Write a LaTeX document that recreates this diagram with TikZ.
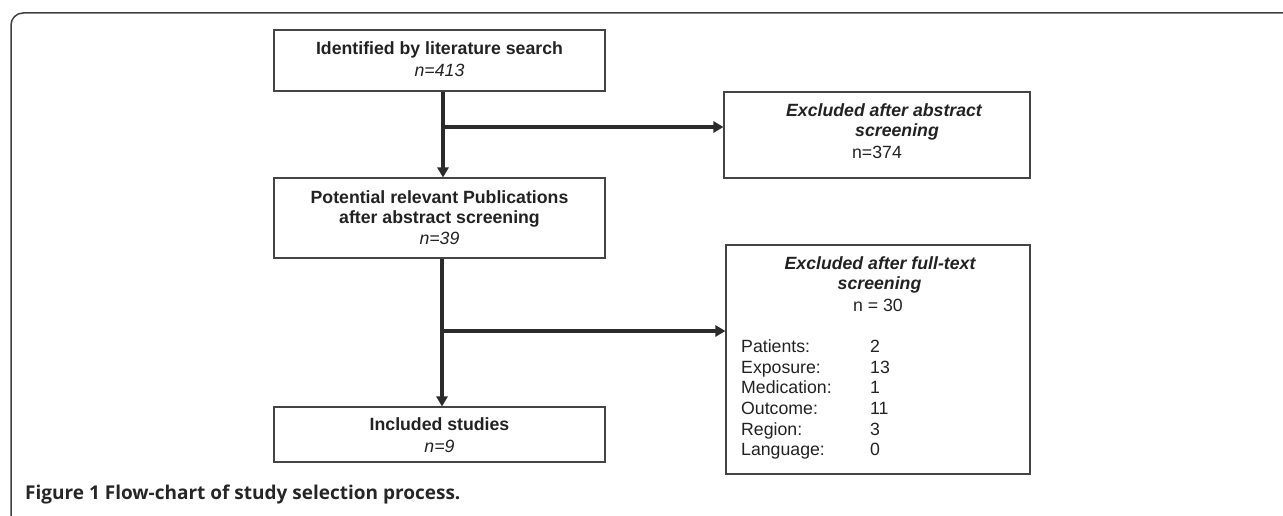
\documentclass[tikz,border=0pt]{standalone}
\usepackage{fontspec}
\setmainfont{Liberation Sans}
\newfontfamily\capfont{Open Sans}
\usetikzlibrary{arrows.meta,calc}
\definecolor{boxline}{HTML}{444444}
\definecolor{txt}{HTML}{222222}
\definecolor{arr}{HTML}{2B2B2B}
\tikzset{
  flowbox/.style={draw=boxline, line width=1.1pt, inner sep=0pt, text=txt},
  flowarrow/.style={draw=arr, line width=3.2pt, -{Triangle[length=10pt,width=11pt]}},
  tx/.style={text=txt, inner sep=0pt, text height=12.7pt, text depth=0pt, font=\fontsize{17.7}{20}\selectfont},
}
\begin{document}
\begin{tikzpicture}[x=1pt,y=-1pt]
\useasboundingbox (0,0) rectangle (1283,516);
% frame
\draw[draw=black!75, line width=1.5pt, rounded corners=12pt] (11,516) -- (11,13) -- (1283,13);
% main boxes
\node[flowbox, minimum width=331pt, minimum height=61pt] (b1) at (439.5,60.5) {};
\node[flowbox, minimum width=331pt, minimum height=80pt] (b2) at (439.5,218) {};
\node[flowbox, minimum width=331pt, minimum height=55pt] (b3) at (439.5,434.5) {};
\node[flowbox, minimum width=306pt, minimum height=86pt] (e1) at (877,135) {};
\node[flowbox, minimum width=304pt, minimum height=229pt] (e2) at (878,359.5) {};
% texts
\node[tx] (t1a) at (439.5,48) {\bfseries Identified by literature search};
\node[tx] (t1b) at (439.5,70) {\itshape n=413};
\node[tx] (t2a) at (439.5,197) {\bfseries Potential relevant Publications};
\node[tx] (t2b) at (439.5,217.5) {\bfseries after abstract screening};
\node[tx] (t2c) at (439.5,238) {\itshape n=39};
\node[tx] (t3a) at (439.5,424) {\bfseries Included studies};
\node[tx] (t3b) at (439.5,446) {\itshape n=9};
\node[tx] (e1a) at (884,110) {\bfseries\itshape Excluded after abstract};
\node[tx] (e1b) at (897,130) {\bfseries\itshape screening};
\node[tx] (e1c) at (877,152) {n=374};
\node[tx] (e2a) at (880,263) {\bfseries\itshape Excluded after full-text};
\node[tx] (e2b) at (879.5,283) {\bfseries\itshape screening};
\node[tx] (e2c) at (878,305) {n = 30};
\foreach \lab/\num/\yy [count=\i] in {Patients:/2/346, Exposure:/13/366.7, Medication:/1/387.4, Outcome:/11/408.1, Region:/3/428.8, Language:/0/449.5}{
  \node[tx, anchor=west] (l\i) at (741,\yy) {\lab};
  \node[tx, anchor=west] (n\i) at (870,\yy) {\num};
}
% connectors
\coordinate (j1) at (443,127);
\coordinate (j2) at (442,331);
\draw[flowarrow] (j1 |- b1.south) -- (j1 |- b2.north);
\draw[flowarrow] (j1) -- (j1 -| e1.west);
\draw[flowarrow] (j2 |- b2.south) -- (j2 |- b3.north);
\draw[flowarrow] (j2) -- (j2 -| e2.west);
% caption
\node[anchor=base west, inner sep=0pt, text=black!85, font=\capfont\bfseries\fontsize{19}{22}\selectfont] (cap) at (25,499) {Figure 1 Flow-chart of study selection process.};
\end{tikzpicture}
\end{document}
